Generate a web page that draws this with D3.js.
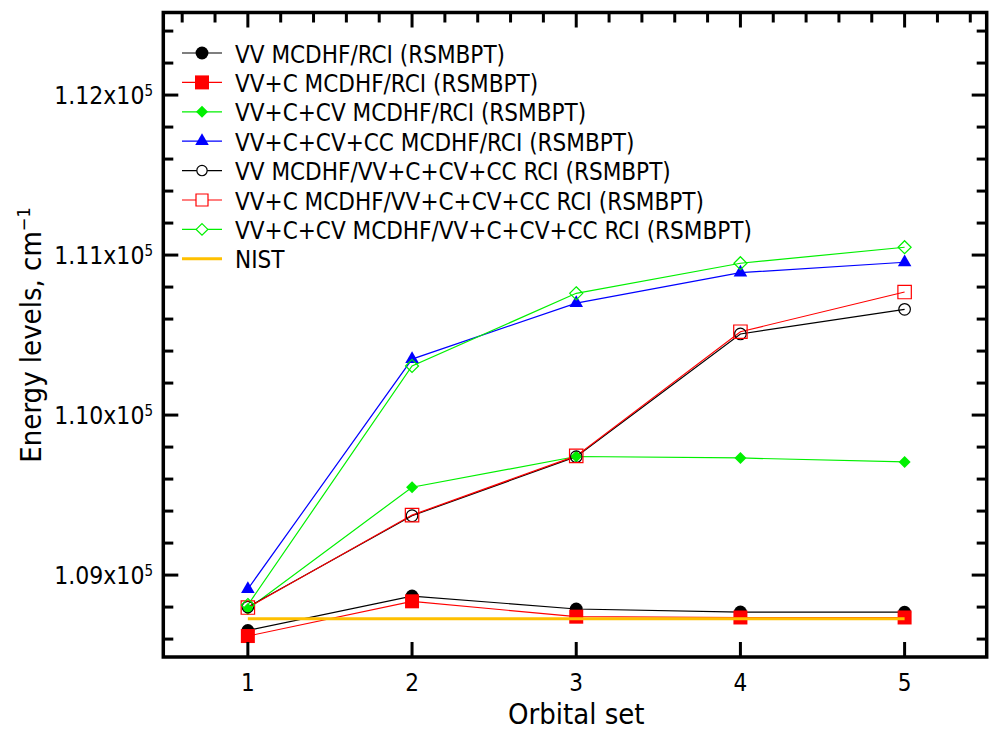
<!DOCTYPE html>
<html>
<head>
<meta charset="utf-8">
<script src="https://cdn.jsdelivr.net/npm/d3@7"></script>
<style>
  body { margin: 0; background: #fff; }
  svg { display: block; }
  text { font-family: "DejaVu Sans Condensed", "DejaVu Sans", sans-serif; fill: #000; }
</style>
</head>
<body>
<div id="chart"></div>
<script>
// orbital sets on the x axis
var orbitalSets = [1, 2, 3, 4, 5]

// energy levels, cm-1
var vvRci        = [108654, 108869, 108788, 108769, 108768]
var vvcRci       = [108619, 108836, 108740, 108735, 108735]
var vvcCvRci     = [108788, 109549, 109741, 109732, 109707]
var vvcCvCcRci   = [108913, 110350, 110700, 110890, 110955]
var vvFull       = [108800, 109371, 109740, 110507, 110661]
var vvcFull      = [108797, 109375, 109745, 110521, 110769]
var vvcCvFull    = [108813, 110307, 110761, 110949, 111049]
var nist         = [108727, 108727, 108727, 108727, 108727]

var seriesNames = [
    "VV MCDHF/RCI (RSMBPT)",
    "VV+C MCDHF/RCI (RSMBPT)",
    "VV+C+CV MCDHF/RCI (RSMBPT)",
    "VV+C+CV+CC MCDHF/RCI (RSMBPT)",
    "VV MCDHF/VV+C+CV+CC RCI (RSMBPT)",
    "VV+C MCDHF/VV+C+CV+CC RCI (RSMBPT)",
    "VV+C+CV MCDHF/VV+C+CV+CC RCI (RSMBPT)",
    "NIST"
]
var yTickValues = [109000, 110000, 111000, 112000]
var yTickLabels = ["1.09", "1.10", "1.11", "1.12"]

var width = 992, height = 731

var svg = d3.select('#chart').append('svg')
    .attr('width', width).attr('height', height)

var x = d3.scaleLinear().domain([0.485, 5.5]).range([163.3, 986.7])
var y = d3.scaleLinear().domain([108488, 112516]).range([657, 12.5])

// square diamond (the d3 one is too narrow)
var symbolRhomb = {
    draw: function(ctx, size) {
        var r = Math.sqrt(size / 2)
        ctx.moveTo(0, -r)
        ctx.lineTo(r, 0)
        ctx.lineTo(0, r)
        ctx.lineTo(-r, 0)
        ctx.closePath()
    }
}

var series = [
    { name: seriesNames[0], values: vvRci,      color: "#000000", symbol: d3.symbolCircle,   size: 130, filled: true },
    { name: seriesNames[1], values: vvcRci,     color: "#ff0000", symbol: d3.symbolSquare,   size: 196, filled: true },
    { name: seriesNames[2], values: vvcCvRci,   color: "#00f000", symbol: symbolRhomb,       size: 72,  filled: true },
    { name: seriesNames[3], values: vvcCvCcRci, color: "#0000ff", symbol: d3.symbolTriangle, size: 80,  filled: true },
    { name: seriesNames[4], values: vvFull,     color: "#000000", symbol: d3.symbolCircle,   size: 105, filled: false },
    { name: seriesNames[5], values: vvcFull,    color: "#ff0000", symbol: d3.symbolSquare,   size: 180, filled: false },
    { name: seriesNames[6], values: vvcCvFull,  color: "#00f000", symbol: symbolRhomb,       size: 85,  filled: false }
]

var line = d3.line()
    .x(function(d, i) { return x(orbitalSets[i]) })
    .y(function(d) { return y(d) })

// ---------- series
var plot = svg.append('g')
series.forEach(function(s) {
    plot.append('path')
        .attr('d', line(s.values))
        .attr('fill', 'none')
        .attr('stroke', s.color)
        .attr('stroke-width', 1.2)
})
series.forEach(function(s) {
    plot.selectAll(null)
        .data(s.values)
        .enter().append('path')
        .attr('transform', function(d, i) { return 'translate(' + x(orbitalSets[i]) + ',' + y(d) + ')' })
        .attr('d', d3.symbol().type(s.symbol).size(s.size))
        .attr('fill', s.filled ? s.color : 'none')
        .attr('stroke', s.color)
        .attr('stroke-width', s.filled ? 0 : 1.2)
})

// NIST reference line
plot.append('path')
    .attr('d', line(nist))
    .attr('fill', 'none')
    .attr('stroke', '#ffc000')
    .attr('stroke-width', 3)

// ---------- axes frame and ticks
var axisG = svg.append('g')
var xLeft = x.range()[0], xRight = x.range()[1]
var yBottom = y.range()[0], yTop = y.range()[1]

var yMinor = d3.range(108600, 112516, 200).filter(function(v) { return v % 1000 !== 0 })
var xMinor = d3.range(0.6, 5.45, 0.2).filter(function(v) { return Math.abs(v - Math.round(v)) > 0.01 })

function tick(x1, y1, x2, y2) {
    axisG.append('line')
        .attr('x1', x1).attr('y1', y1).attr('x2', x2).attr('y2', y2)
        .attr('stroke', '#000').attr('stroke-width', 3)
}

yTickValues.forEach(function(v) {
    tick(xLeft, y(v), xLeft + 15, y(v))
    tick(xRight, y(v), xRight - 15, y(v))
})
yMinor.forEach(function(v) {
    tick(xLeft, y(v), xLeft + 10, y(v))
    tick(xRight, y(v), xRight - 10, y(v))
})
orbitalSets.forEach(function(v) {
    tick(x(v), yBottom, x(v), yBottom - 15)
    tick(x(v), yTop, x(v), yTop + 15)
})
xMinor.forEach(function(v) {
    tick(x(v), yTop, x(v), yTop + 10)
})

axisG.append('rect')
    .attr('x', xLeft).attr('y', yTop)
    .attr('width', xRight - xLeft).attr('height', yBottom - yTop)
    .attr('fill', 'none').attr('stroke', '#000').attr('stroke-width', 3.5)

// y tick labels
yTickValues.forEach(function(v, i) {
    var t = svg.append('text')
        .attr('x', 153).attr('y', y(v) + 9)
        .attr('text-anchor', 'end')
        .style('font-size', '24.5px')
    t.append('tspan').text(yTickLabels[i] + 'x10')
    t.append('tspan').attr('dy', -8).style('font-size', '15px').text('5')
})

// x tick labels
orbitalSets.forEach(function(v) {
    svg.append('text')
        .attr('x', x(v)).attr('y', 691)
        .attr('text-anchor', 'middle')
        .style('font-size', '24px')
        .text(v)
})

// axis titles
svg.append('text')
    .attr('x', x(3)).attr('y', 724)
    .attr('text-anchor', 'middle')
    .style('font-size', '29px')
    .text('Orbital set')

var yt = svg.append('text')
    .attr('transform', 'translate(41,335) rotate(-90)')
    .attr('text-anchor', 'middle')
    .style('font-size', '29px')
yt.append('tspan').text('Energy levels, cm')
yt.append('tspan').attr('dy', -11).style('font-size', '18px').text('\u22121')

// ---------- legend
var legend = svg.append('g')
var rowY = function(i) { return 53 + i * 29.4 }
series.forEach(function(s, i) {
    var g = legend.append('g').attr('transform', 'translate(0,' + rowY(i) + ')')
    g.append('line').attr('x1', 182).attr('x2', 222)
        .attr('stroke', s.color).attr('stroke-width', 1.2)
    g.append('path')
        .attr('transform', 'translate(202,0)')
        .attr('d', d3.symbol().type(s.symbol).size(s.filled ? s.size : s.size * 0.8))
        .attr('fill', s.filled ? s.color : '#fff')
        .attr('stroke', s.color)
        .attr('stroke-width', s.filled ? 0 : 1.2)
    g.append('text').attr('x', 235).attr('y', 9.5)
        .style('font-size', '24px').text(s.name)
})
var ng = legend.append('g').attr('transform', 'translate(0,' + rowY(7) + ')')
ng.append('line').attr('x1', 182).attr('x2', 222)
    .attr('stroke', '#ffc000').attr('stroke-width', 3)
ng.append('text').attr('x', 235).attr('y', 9.5)
    .style('font-size', '24px').text(seriesNames[7])
</script>
</body>
</html>
